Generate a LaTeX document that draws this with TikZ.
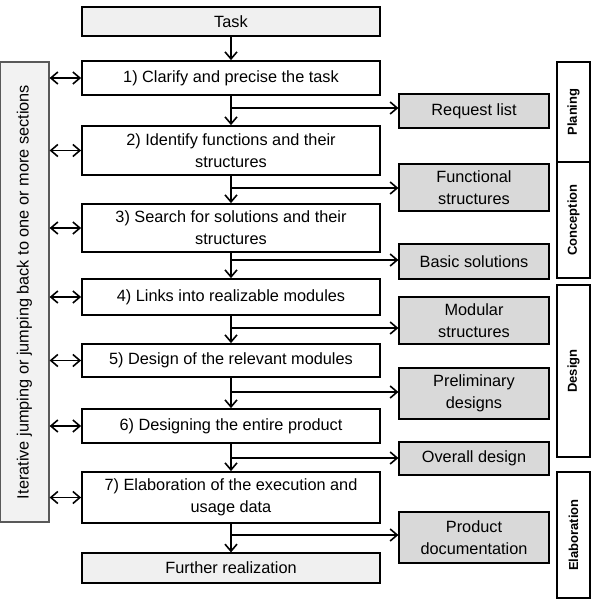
\documentclass[tikz,border=0pt]{standalone}
\usepackage{fontspec}
\setmainfont{Liberation Sans}
\usetikzlibrary{arrows.meta}
\tikzset{
  stepbox/.style={draw, line width=1.8pt, fill=white, minimum width=298pt, align=center},
  endbox/.style={draw, line width=1.2pt, fill=gray!12, minimum width=298pt, align=center},
  resultbox/.style={draw, line width=1.2pt, fill=gray!30, minimum width=150pt, align=center},
  phasebox/.style={draw, line width=1.2pt, minimum height=33pt, font=\bfseries\fontsize{13}{15}\selectfont},
  flow/.style={line width=1.6pt, -{Straight Barb[length=7pt,width=12pt,line width=1.6pt]}},
  jump/.style={line width=1.6pt, {Straight Barb[length=7pt,width=12pt,line width=1.6pt]}-{Straight Barb[length=7pt,width=12pt,line width=1.6pt]}}
}
\begin{document}
\begin{tikzpicture}[x=1pt, y=-1pt, font=\fontsize{16.3}{22}\selectfont]
            \useasboundingbox (0,0) rectangle (593,599);
            % steps
            \node[endbox, minimum height=29pt] (task) at (231,21.5) {Task};
            \node[stepbox, minimum height=34pt] (s1) at (231,78) {1) Clarify and precise the task};
            \node[stepbox, minimum height=49pt] (s2) at (231,150.5) {2) Identify functions and their\\structures};
            \node[stepbox, minimum height=48pt] (s3) at (231,228) {3) Search for solutions and their\\structures};
            \node[stepbox, minimum height=36pt] (s4) at (231,297) {4) Links into realizable modules};
            \node[stepbox, minimum height=33pt] (s5) at (231,360.5) {5) Design of the relevant modules};
            \node[stepbox, minimum height=34pt] (s6) at (231,426) {6) Designing the entire product};
            \node[stepbox, minimum height=51pt] (s7) at (231,497.5) {7) Elaboration of the execution and\\usage data};
            \node[endbox, minimum height=30pt] (further) at (231,568) {Further realization};
            % results
            \node[resultbox, minimum height=34pt] (r1) at (474,111) {Request list};
            \node[resultbox, minimum height=47pt] (r2) at (474,187.5) {Functional\\structures};
            \node[resultbox, minimum height=35pt] (r3) at (474,261.5) {Basic solutions};
            \node[resultbox, minimum height=47pt] (r4) at (474,320.5) {Modular\\structures};
            \node[resultbox, minimum height=51pt] (r5) at (474,393.5) {Preliminary\\designs};
            \node[resultbox, minimum height=33pt] (r6) at (474,458.5) {Overall design};
            \node[resultbox, minimum height=51pt] (r7) at (474,537.5) {Product\\documentation};
            % phases
            \node[phasebox, minimum width=100pt, rotate=90] (planing) at (573.5,112) {Planing};
            \node[phasebox, minimum width=116pt, rotate=90] (conception) at (573.5,220) {Conception};
            \node[phasebox, minimum width=172pt, rotate=90] (design) at (573.5,371) {Design};
            \node[phasebox, minimum width=126pt, rotate=90] (elaboration) at (573.5,535) {Elaboration};
            % iteration
            \node[draw=gray!70!black, line width=1.2pt, fill=gray!10, minimum width=460pt, minimum height=49pt, rotate=90] (iter) at (24.5,292) {Iterative jumping or jumping back to one or more sections};
            % main flow
            \draw[flow] (task) -- (s1);
            \draw[flow] (s1) -- (s2);
            \draw[flow] (s2) -- (s3);
            \draw[flow] (s3) -- (s4);
            \draw[flow] (s4) -- (s5);
            \draw[flow] (s5) -- (s6);
            \draw[flow] (s6) -- (s7);
            \draw[flow] (s7) -- (further);
            % branches
            \coordinate (b1) at (231,108);
            \coordinate (b2) at (231,188);
            \coordinate (b3) at (231,260);
            \coordinate (b4) at (231,328);
            \coordinate (b5) at (231,392);
            \coordinate (b6) at (231,458);
            \coordinate (b7) at (231,535);
            \draw[flow] (b1) -- (b1 -| r1.west);
            \draw[flow] (b2) -- (b2 -| r2.west);
            \draw[flow] (b3) -- (b3 -| r3.west);
            \draw[flow] (b4) -- (b4 -| r4.west);
            \draw[flow] (b5) -- (b5 -| r5.west);
            \draw[flow] (b6) -- (b6 -| r6.west);
            \draw[flow] (b7) -- (b7 -| r7.west);
            % jumps
            \draw[jump] (s1.west -| iter.south) -- (s1.west);
            \draw[jump] (s2.west -| iter.south) -- (s2.west);
            \draw[jump] (s3.west -| iter.south) -- (s3.west);
            \draw[jump] (s4.west -| iter.south) -- (s4.west);
            \draw[jump] (s5.west -| iter.south) -- (s5.west);
            \draw[jump] (s6.west -| iter.south) -- (s6.west);
            \draw[jump] (s7.west -| iter.south) -- (s7.west);
          \end{tikzpicture}
\end{document}
